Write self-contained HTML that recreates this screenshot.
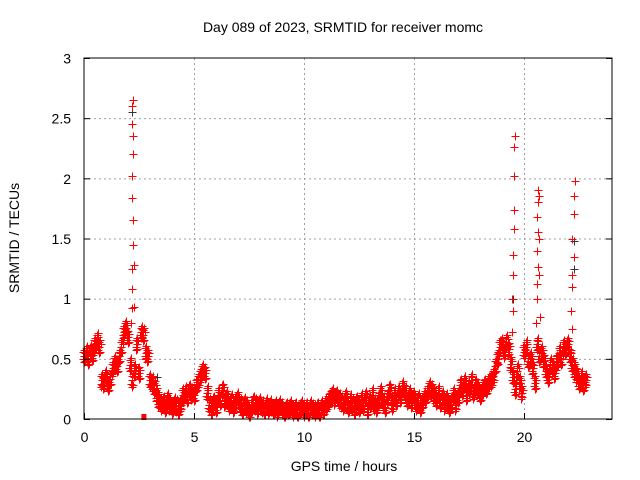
<!DOCTYPE html>
<html><head><meta charset="utf-8"><style>
html,body{margin:0;padding:0;background:#fff;}
svg{display:block;font-family:"Liberation Sans",sans-serif;}
</style></head><body>
<svg id="chart" width="640" height="480" viewBox="0 0 640 480">
<text x="343" y="32" font-size="14" text-anchor="middle">Day 089 of 2023, SRMTID for receiver momc</text>
<g id="grid"></g>
<g id="marks"></g>
<rect x="84" y="58" width="528" height="361" fill="none" stroke="#000" stroke-width="1"/>
<g id="axes"></g>
<text x="344" y="471" font-size="14" text-anchor="middle">GPS time / hours</text>
<text transform="translate(19,238) rotate(-90)" font-size="14" text-anchor="middle">SRMTID / TECUs</text>
</svg>
<script>
const xTicks=[0,5,10,15,20];
const yTicks=[0,0.5,1,1.5,2,2.5,3];
const yTickLabels=["0","0.5","1","1.5","2","2.5","3"];
const baseStart=[0];
const baseStep=[0.1];
const baseValues=[0.52,0.55,0.50,0.56,0.53,0.62,0.66,0.60,0.32,0.30,0.35,0.28,0.33,0.42,0.47,0.44,0.52,0.60,0.72,0.76,0.68,0.45,0.32,0.40,0.62,0.38,0.72,0.70,0.55,0.52,0.32,0.30,0.26,0.20,0.15,0.12,0.14,0.10,0.16,0.12,0.09,0.13,0.11,0.08,0.12,0.20,0.22,0.18,0.24,0.21,0.20,0.28,0.32,0.36,0.40,0.38,0.22,0.12,0.08,0.14,0.10,0.20,0.16,0.24,0.15,0.18,0.12,0.15,0.10,0.14,0.17,0.12,0.08,0.13,0.10,0.06,0.10,0.14,0.12,0.09,0.13,0.10,0.08,0.12,0.09,0.11,0.08,0.10,0.07,0.11,0.09,0.06,0.09,0.08,0.10,0.07,0.09,0.06,0.08,0.10,0.07,0.09,0.06,0.10,0.08,0.07,0.09,0.06,0.10,0.08,0.12,0.15,0.18,0.20,0.17,0.19,0.16,0.14,0.12,0.18,0.10,0.15,0.12,0.08,0.14,0.10,0.16,0.12,0.18,0.08,0.14,0.20,0.12,0.10,0.16,0.22,0.14,0.10,0.18,0.24,0.12,0.20,0.16,0.22,0.18,0.26,0.22,0.16,0.20,0.14,0.18,0.12,0.16,0.10,0.14,0.18,0.22,0.26,0.24,0.20,0.16,0.22,0.14,0.18,0.12,0.16,0.10,0.14,0.20,0.12,0.18,0.28,0.24,0.30,0.20,0.26,0.32,0.22,0.28,0.25,0.20,0.24,0.28,0.26,0.30,0.32,0.36,0.44,0.50,0.60,0.62,0.56,0.64,0.58,0.46,0.35,0.25,0.40,0.30,0.22,0.56,0.60,0.48,0.50,0.42,0.30,0.62,0.52,0.55,0.48,0.40,0.35,0.45,0.42,0.38,0.48,0.55,0.50,0.60,0.58,0.62,0.52,0.45,0.40,0.36,0.30,0.34,0.28,0.32];
const spikeTimes=[2.15,2.18,2.2,2.2,2.22,2.22,2.2,2.2,2.22,2.22,2.2,2.2,2.22,2.25,2.25,19.45,19.5,19.45,19.5,19.5,19.55,19.55,19.55,19.55,19.6,20.55,20.6,20.6,20.65,20.6,20.65,20.6,20.65,20.62,20.68,20.7,20.7,20.72,22.15,22.2,22.2,22.25,22.2,22.25,22.25,22.3,22.2];
const spikeValues=[0.8,0.92,1.08,1.25,1.45,1.65,1.84,2.02,2.2,2.35,2.45,2.6,2.65,1.28,0.93,0.72,0.9,1.0,1.2,1.36,1.58,1.74,2.02,2.26,2.35,0.8,1.0,1.12,1.26,1.4,1.55,1.68,1.8,1.9,1.85,1.5,1.2,0.85,0.9,1.1,1.2,1.35,1.5,1.7,1.85,1.98,0.75];
const blackTimes=[19.6,22.25,22.25,22.25,19.5,2.2,3.3];
const blackValues=[2.35,1.7,1.48,1.25,1.0,2.55,0.35];

const NS="http://www.w3.org/2000/svg";
const X0=84,X1=612,Y0=419,Y1=58,XMAX=24,YMAX=3;
function xs(t){return X0+(X1-X0)*t/XMAX;}
function ys(v){return Y0-(Y0-Y1)*v/YMAX;}
const grid=document.getElementById('grid'),axes=document.getElementById('axes'),marks=document.getElementById('marks');
function line(p,x1,y1,x2,y2,st,dash){const l=document.createElementNS(NS,'line');l.setAttribute('x1',x1);l.setAttribute('y1',y1);l.setAttribute('x2',x2);l.setAttribute('y2',y2);l.setAttribute('stroke',st);if(dash)l.setAttribute('stroke-dasharray',dash);p.appendChild(l);return l;}
xTicks.forEach(t=>{const x=xs(t)+0.5;
 if(t>0){const g=line(grid,x,Y1,x,Y0,'#a0a0a0','2,3');
 
 }
 const k=line(axes,x,Y0,x,Y0-6,'#000');
 
 
 const tx=document.createElementNS(NS,'text');tx.setAttribute('x',x);tx.setAttribute('y',442);tx.setAttribute('font-size','14');tx.setAttribute('text-anchor','middle');tx.textContent=t;
 
 
 axes.appendChild(tx);});
yTicks.forEach((v,i)=>{const y=ys(v)+0.5;
 if(v>0&&v<3){const g=line(grid,X0,y,X1,y,'#a0a0a0','2,3');
 
 }
 const k=line(axes,X0,y,X0+6,y,'#000');
 
 
 const k2=line(axes,X1-6,y,X1,y,'#000');
 
 
 const tx=document.createElementNS(NS,'text');tx.setAttribute('x',71);tx.setAttribute('y',y+5);tx.setAttribute('font-size','14');tx.setAttribute('text-anchor','end');tx.textContent=yTickLabels[i];
 
 
 axes.appendChild(tx);});
function plus(t,v,col){const x=Math.round(xs(t))+0.5,y=Math.round(ys(v))+0.5;
 const p=document.createElementNS(NS,'path');p.setAttribute('d',`M${x-4} ${y}H${x+4}M${x} ${y-4}V${y+4}`);p.setAttribute('stroke',col);p.setAttribute('fill','none');
 
 
 marks.appendChild(p);}
const offs=[[-0.03,0.04],[0,0],[0.03,-0.04],[0.05,0.025],[-0.05,-0.025],[0.015,0.055],[-0.015,-0.05]];
blackTimes.forEach((t,i)=>plus(t,blackValues[i],'#333'));
baseValues.forEach((v,i)=>{const t=baseStart[0]+baseStep[0]*i;offs.forEach(o=>plus(t+o[0],Math.max(0.02,v+o[1]),'#ff0000'));});
spikeTimes.forEach((t,i)=>plus(t,spikeValues[i],'#ff0000'));
const sq=document.createElementNS(NS,'rect');sq.setAttribute('x',xs(2.7)-2);sq.setAttribute('y',414);sq.setAttribute('width',5);sq.setAttribute('height',6);sq.setAttribute('fill','#ff0000');


marks.appendChild(sq);
</script>
</body></html>
